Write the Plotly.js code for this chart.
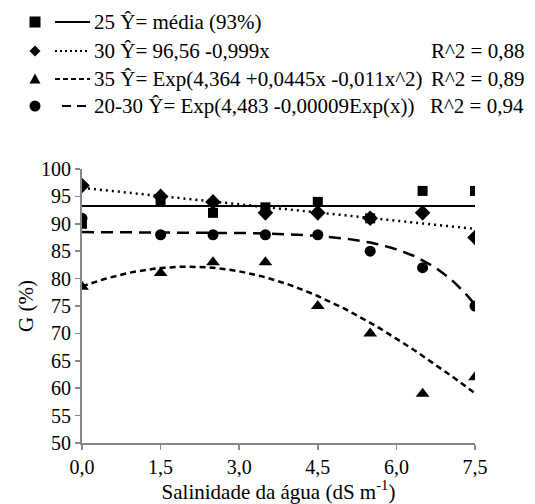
<!DOCTYPE html>
<html><head><meta charset="utf-8">
<script src="https://cdn.plot.ly/plotly-3.0.1.min.js"></script>
<style>html,body{margin:0;padding:0;background:#fff}</style>
</head><body><div id="chart" style="width:535px;height:504px"></div>
<script>
// Salinity levels (dS m-1)
const salinity = [0, 1.5, 2.5, 3.5, 4.5, 5.5, 6.5, 7.5];
// Germination (%) by temperature
const g25 = [90, 94, 92, 93, 94, 91, 96, 96];
const g30 = [97, 95, 94, 92, 92, 91, 92, 87.5];
const g35 = [78.5, 81, 83, 83, 75, 70, 59, 62];
const g2030 = [91, 88, 88, 88, 88, 85, 82, 75];
// regression coefficients from the legend
const fit30 = [96.56, -0.999];
const fit35 = [4.364, 0.0445, -0.011];
const fit2030 = [4.483, -0.00009];
const xTickVals = [0, 1.5, 3, 4.5, 6, 7.5];
const xTickText = ["0,0", "1,5", "3,0", "4,5", "6,0", "7,5"];
const yTickVals = [50, 55, 60, 65, 70, 75, 80, 85, 90, 95, 100];
const legendLabels = ["25 Ŷ= média (93%)", "30 Ŷ= 96,56 -0,999x", "35 Ŷ= Exp(4,364 +0,0445x -0,011x^2)", "20-30 Ŷ= Exp(4,483 -0,00009Exp(x))"];
const legendR2 = ["", "R^2 = 0,88", "R^2 = 0,89", "R^2 = 0,94"];

const xs = [];
for (let i = 0; i <= 75; i++) xs.push(i / 10);
const mean25 = g25.reduce((a, b) => a + b, 0) / g25.length;
const y25 = xs.map(() => mean25);
const y30 = xs.map(x => fit30[0] + fit30[1] * x);
const y35 = xs.map(x => Math.exp(fit35[0] + fit35[1] * x + fit35[2] * x * x));
const y2030 = xs.map(x => Math.exp(fit2030[0] + fit2030[1] * Math.exp(x)));

const traces = [
  {x: xs, y: y25, mode: 'lines', line: {color: '#000', width: 2, dash: 'solid'}},
  {x: xs, y: y30, mode: 'lines', line: {color: '#000', width: 2.5, dash: '2px,4px'}},
  {x: xs, y: y35, mode: 'lines', line: {color: '#000', width: 2.5, dash: '6px,4px'}},
  {x: xs, y: y2030, mode: 'lines', line: {color: '#000', width: 2.5, dash: '12px,7px'}},
  {x: salinity, y: g30, mode: 'markers', marker: {symbol: 'diamond', size: 12, color: '#000'}},
  {x: salinity, y: g35, mode: 'markers', marker: {symbol: 'triangle-up', size: 12, color: '#000'}},
  {x: salinity, y: g2030, mode: 'markers', marker: {symbol: 'circle', size: 11, color: '#000'}},
  {x: salinity, y: g25, mode: 'markers', marker: {symbol: 'square', size: 10, color: '#000'}}
];

const fam = "Liberation Serif";
const tickFont = {family: fam, color: '#000', size: 20};
const titleFont = {family: fam, color: '#000', size: 21};
const legFont = {family: fam, color: '#000', size: 21};
const rowsY = [22, 51, 79, 106];
const M = {l: 82, r: 60, t: 169, b: 61};
const W = 535, H = 504;
const PW = W - M.l - M.r, PH = H - M.t - M.b;
const px = v => (v - M.l) / PW;
const py = v => (H - M.b - v) / PH;
const annotations = [];
const shapes = [];
const dashPx = ['solid', '2px,3px', '5px,3px', '9px,6px'];
const mx = 35;
function pathFrom(pts) {
  return 'M' + pts.map(p => px(p[0]) + ',' + py(p[1])).join('L') + 'Z';
}
for (let i = 0; i < 4; i++) {
  const yc = rowsY[i];
  const y = py(yc);
  annotations.push({xref: 'paper', yref: 'paper', x: px(92), y: y, text: legendLabels[i], showarrow: false,
    xanchor: 'left', yanchor: 'middle', font: legFont});
  if (legendR2[i]) annotations.push({xref: 'paper', yref: 'paper', x: px(526), y: y, text: legendR2[i], showarrow: false,
    xanchor: 'right', yanchor: 'middle', font: legFont});
  const lx0 = i === 3 ? 62 : 55;
  shapes.push({type: 'line', xref: 'paper', yref: 'paper', x0: px(lx0), x1: px(90), y0: y, y1: y,
    line: {color: '#000', width: 2, dash: dashPx[i]}});
}
const sym = {type: 'path', xref: 'paper', yref: 'paper', fillcolor: '#000', line: {width: 0}};
shapes.push(Object.assign({}, sym, {path: pathFrom([[mx - 5.5, rowsY[0] - 5.5], [mx + 5.5, rowsY[0] - 5.5], [mx + 5.5, rowsY[0] + 5.5], [mx - 5.5, rowsY[0] + 5.5]])}));
shapes.push(Object.assign({}, sym, {path: pathFrom([[mx, rowsY[1] - 5.5], [mx + 5.5, rowsY[1]], [mx, rowsY[1] + 5.5], [mx - 5.5, rowsY[1]]])}));
shapes.push(Object.assign({}, sym, {path: pathFrom([[mx, rowsY[2] - 5.5], [mx + 5.5, rowsY[2] + 4.5], [mx - 5.5, rowsY[2] + 4.5]])}));
shapes.push({type: 'circle', xref: 'paper', yref: 'paper', fillcolor: '#000', line: {width: 0},
  x0: px(mx - 5.5), x1: px(mx + 5.5), y0: py(rowsY[3] - 5.5), y1: py(rowsY[3] + 5.5)});

const layout = {
  width: W, height: H,
  margin: M,
  showlegend: false,
  paper_bgcolor: '#fff', plot_bgcolor: '#fff',
  font: tickFont,
  xaxis: {range: [0, 7.5], tickvals: xTickVals, ticktext: xTickText, showgrid: false, zeroline: false,
    showline: true, linecolor: '#888', linewidth: 2, ticks: 'outside', tickcolor: '#888', ticklen: 5, tickwidth: 1.5,
    tickfont: tickFont, title: {text: 'Salinidade da água (dS m<sup>-1</sup>)', font: titleFont, standoff: 2}},
  yaxis: {range: [50, 100], tickvals: yTickVals, showgrid: false, zeroline: false,
    showline: true, linecolor: '#888', linewidth: 2, ticks: 'outside', tickcolor: '#888', ticklen: 5, tickwidth: 1.5,
    tickfont: tickFont, title: {text: 'G (%)', font: titleFont, standoff: 2}},
  annotations: annotations,
  shapes: shapes
};
Plotly.newPlot('chart', traces, layout, {displayModeBar: false, staticPlot: true});
</script></body></html>
